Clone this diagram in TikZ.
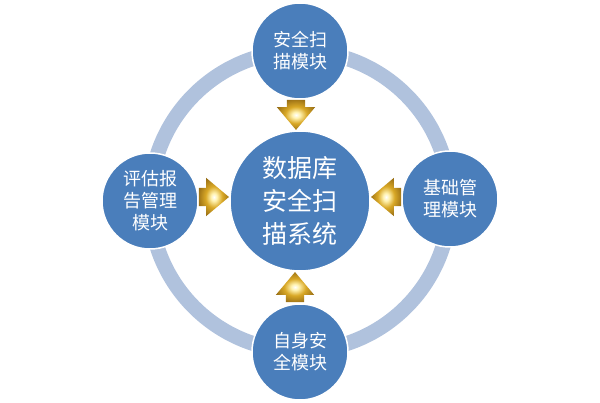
\documentclass[tikz,border=0pt]{standalone}
\usepackage{fontspec}
\newfontfamily\cjk{Noto Sans CJK SC}
\usepackage{tikz}
\usetikzlibrary{shapes, arrows.meta, positioning}
\definecolor{modblue}{HTML}{4A7EBB}
\definecolor{ringblue}{HTML}{B0C2DD}
\definecolor{golddark}{HTML}{8A6212}
\definecolor{goldmid}{HTML}{D9A826}
\definecolor{goldlight}{HTML}{FFF2B0}
\pgfdeclareradialshading{goldball}{\pgfpoint{0bp}{0bp}}{color(0bp)=(white); color(5bp)=(goldlight); color(14bp)=(goldmid); color(30bp)=(golddark); color(50bp)=(golddark)}
\tikzstyle{module} = [circle, minimum size=96pt, inner sep=0pt, fill=modblue, draw=white, line width=1.5pt, text=white, align=center, font=\cjk\fontsize{18pt}{22pt}\selectfont]
\tikzstyle{core} = [module, minimum size=140pt, font=\cjk\fontsize{25pt}{33pt}\selectfont]
\tikzstyle{goldarrow} = [single arrow, shading=goldball, draw=none, inner xsep=0pt, inner ysep=9pt, single arrow head extend=10pt, single arrow tip angle=80, minimum height=30pt]
\tikzstyle{ring} = [draw=ringblue, line width=15pt]

\begin{document}
\begin{tikzpicture}[x=1pt, y=-1pt]
    \useasboundingbox (0, 0) rectangle (600, 403);

    \coordinate (hub) at (300, 201);
    \draw [ring] (hub) circle[radius=150pt];

    \node (sys) [core] at (hub) {数据库\\安全扫\\描系统};
    \node (scan) [module] at (300, 51) {安全扫\\描模块};
    \node (report) [module] at (150, 201) {评估报\\告管理\\模块};
    \node (base) [module] at (450, 199) {基础管\\理模块};
    \node (self) [module] at (300, 352) {自身安\\全模块};

    \node (arrScan) [goldarrow, rotate=-90, anchor=tip] at ([xshift=-4pt]sys.north) {};
    \node (arrReport) [goldarrow, anchor=tip] at ([yshift=4pt]sys.west) {};
    \node (arrBase) [goldarrow, rotate=180, anchor=tip] at ([yshift=4pt]sys.east) {};
    \node (arrSelf) [goldarrow, rotate=90, anchor=tip] at ([xshift=-5pt]sys.south) {};

\end{tikzpicture}
\end{document}
